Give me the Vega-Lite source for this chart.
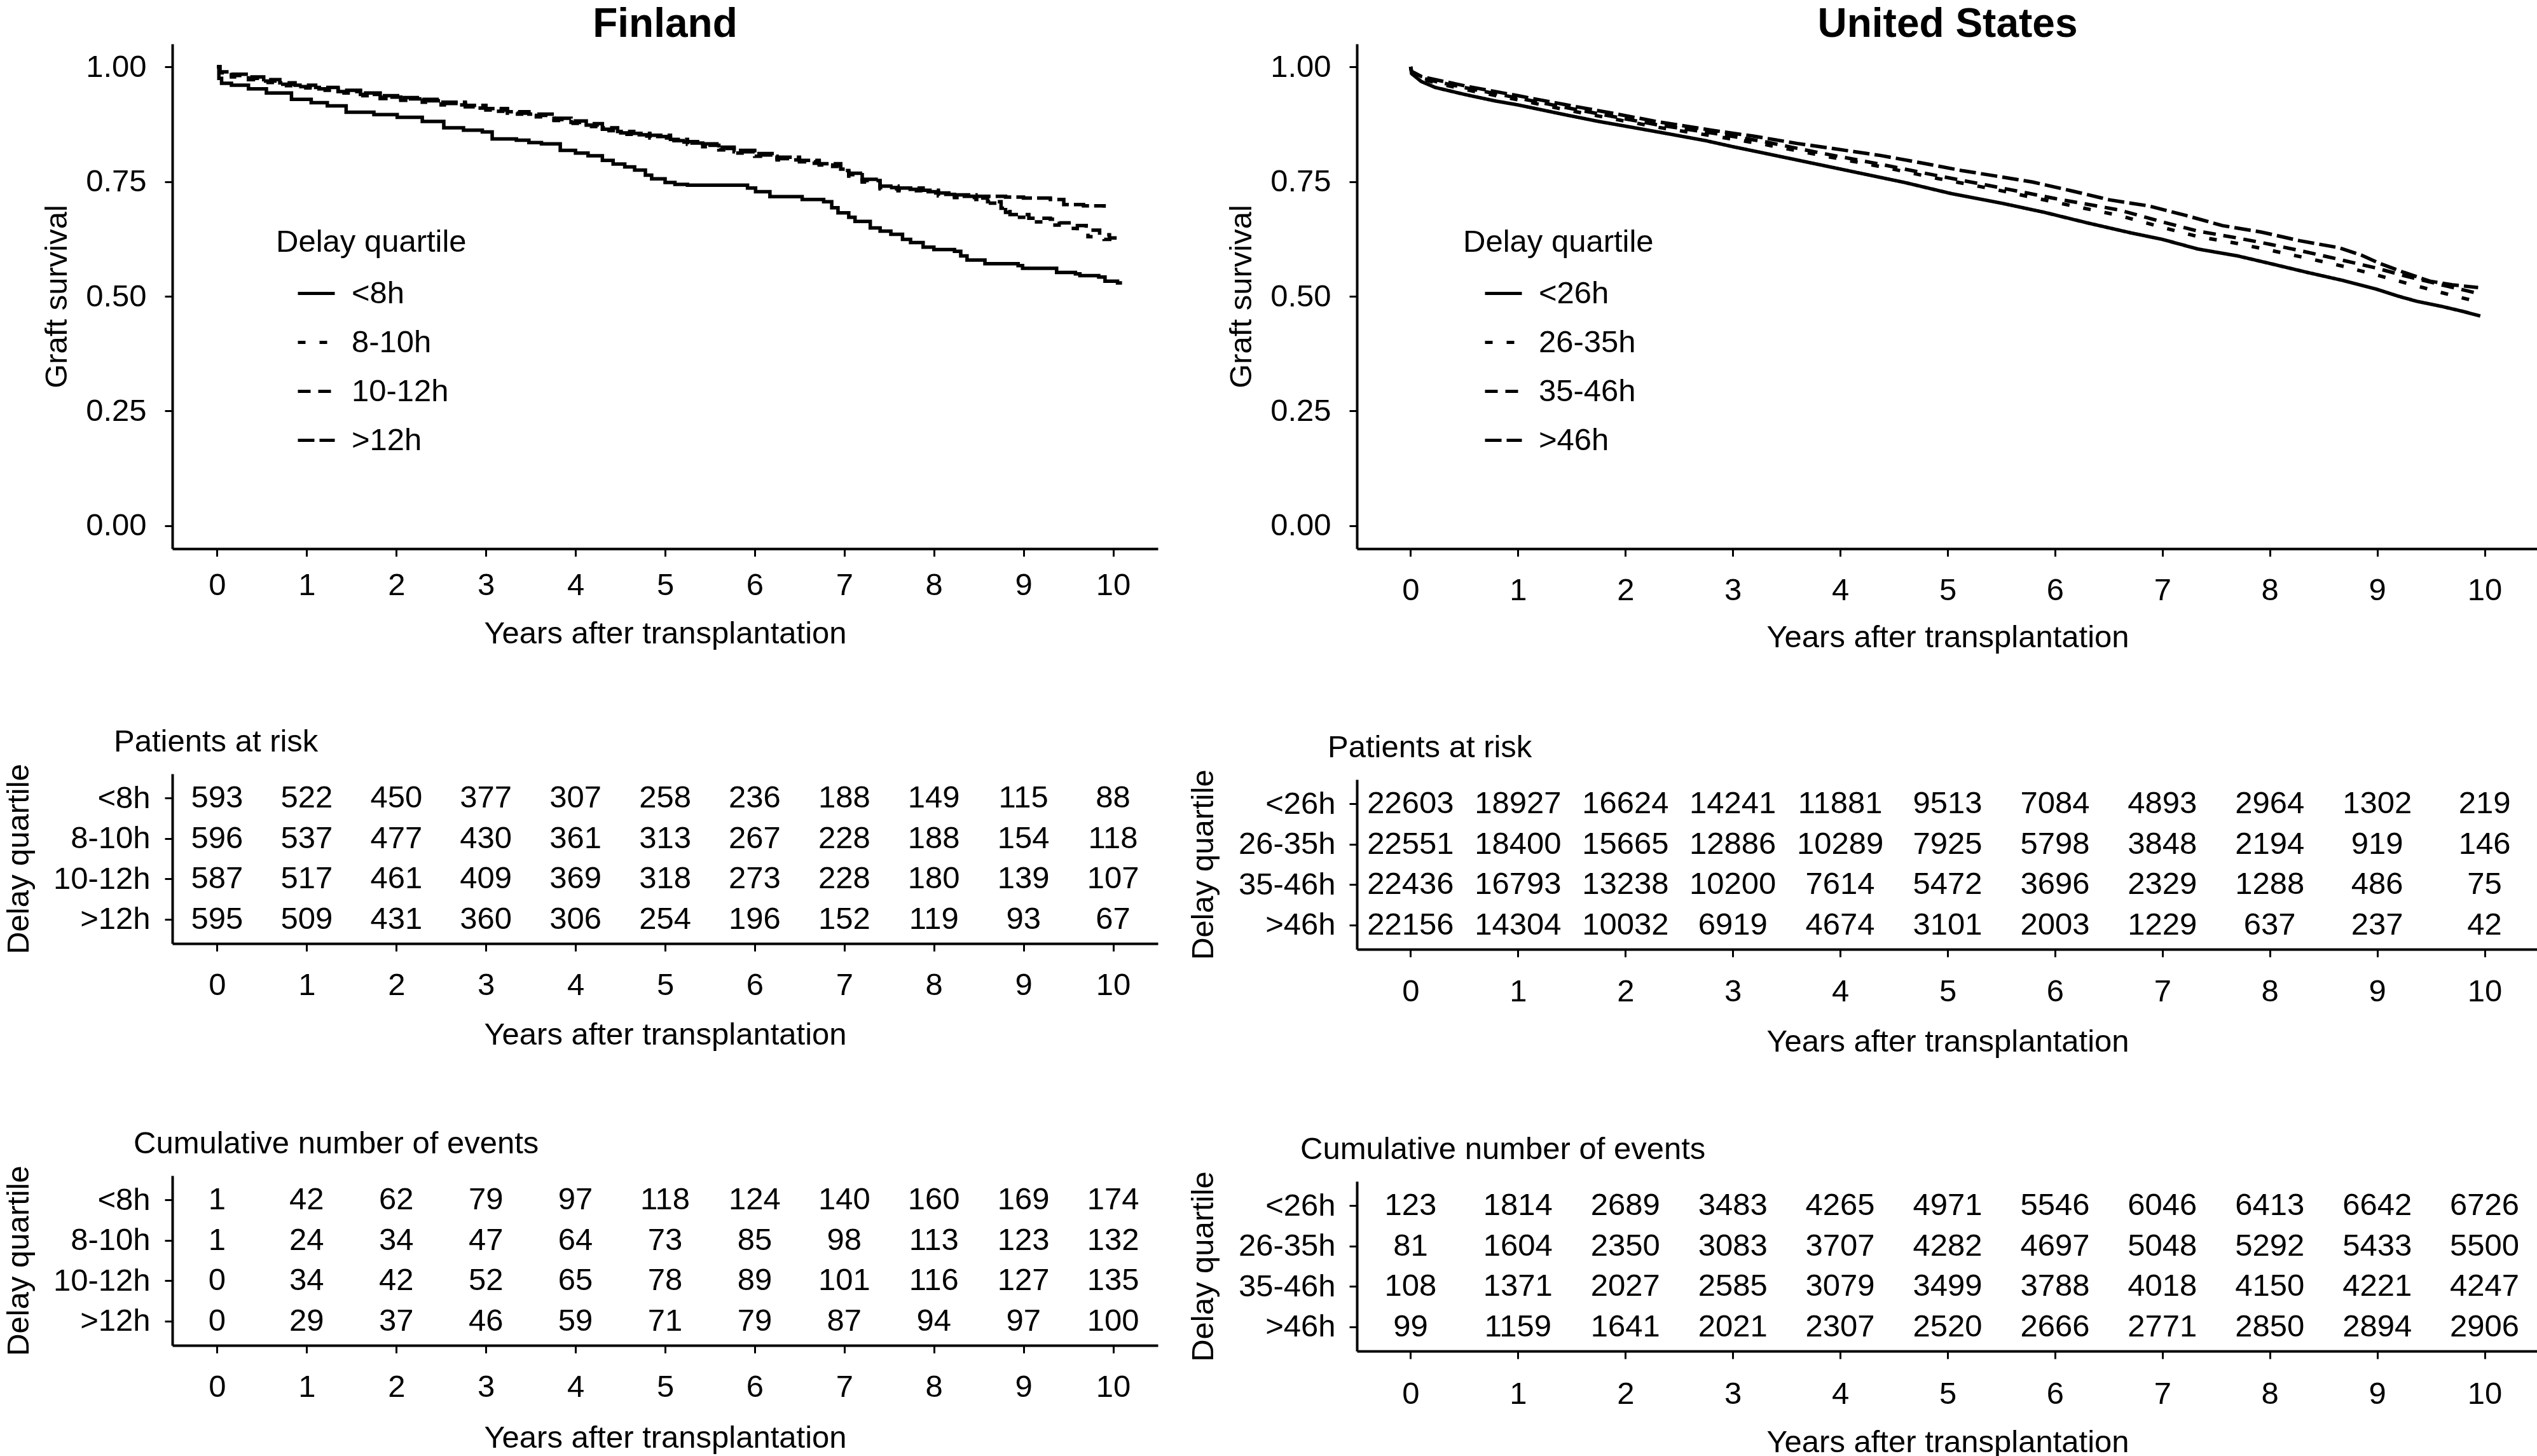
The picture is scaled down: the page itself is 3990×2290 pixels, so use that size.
{
"$schema": "https://vega.github.io/schema/vega-lite/v6.json",
"background": "white",
"padding": {"left": 4, "top": 7, "right": 0, "bottom": 0},
"config": {
  "font": "Liberation Sans",
  "view": {"stroke": null},
  "axis": {"labelFont": "Liberation Sans", "titleFont": "Liberation Sans", "labelFontSize": 49, "titleFontSize": 49, "labelColor": "black", "titleColor": "black", "domainColor": "black", "tickColor": "black", "grid": false, "titleFontWeight": "normal", "domainWidth": 4, "tickWidth": 3, "tickSize": 12, "labelFlush": false, "labelOverlap": false, "titleLimit": 3000, "labelLimit": 1000},
  "legend": {"titleFontSize": 49, "titleFontWeight": "normal", "titleColor": "black", "titleFont": "Liberation Sans", "labelFont": "Liberation Sans", "labelFontSize": 49, "labelColor": "black", "symbolType": "stroke", "symbolSize": 3364, "symbolStrokeWidth": 5, "symbolStrokeColor": "black", "symbolOffset": 32, "labelOffset": 24, "rowPadding": 20, "titlePadding": 24, "padding": 0, "orient": "none", "titleLimit": 2000, "labelLimit": 2000},
  "title": {"font": "Liberation Sans", "color": "black", "limit": 3000},
  "text": {"font": "Liberation Sans"}
},
"datasets": {
  "fiKM": [
    {"x":0,"s":1.0,"g":"<8h"},{"x":0.02,"s":0.975,"g":"<8h"},{"x":0.05,"s":0.964,"g":"<8h"},{"x":0.16,"s":0.960,"g":"<8h"},{"x":0.35,"s":0.952,"g":"<8h"},{"x":0.55,"s":0.943,"g":"<8h"},{"x":0.83,"s":0.929,"g":"<8h"},{"x":1.05,"s":0.922,"g":"<8h"},{"x":1.23,"s":0.915,"g":"<8h"},{"x":1.44,"s":0.901,"g":"<8h"},{"x":1.75,"s":0.896,"g":"<8h"},{"x":2.01,"s":0.890,"g":"<8h"},{"x":2.29,"s":0.881,"g":"<8h"},{"x":2.53,"s":0.867,"g":"<8h"},{"x":2.75,"s":0.862,"g":"<8h"},{"x":2.96,"s":0.858,"g":"<8h"},{"x":3.07,"s":0.843,"g":"<8h"},{"x":3.34,"s":0.840,"g":"<8h"},{"x":3.48,"s":0.835,"g":"<8h"},{"x":3.62,"s":0.832,"g":"<8h"},{"x":3.83,"s":0.818,"g":"<8h"},{"x":4.0,"s":0.812,"g":"<8h"},{"x":4.14,"s":0.806,"g":"<8h"},{"x":4.3,"s":0.796,"g":"<8h"},{"x":4.42,"s":0.788,"g":"<8h"},{"x":4.55,"s":0.782,"g":"<8h"},{"x":4.66,"s":0.775,"g":"<8h"},{"x":4.78,"s":0.764,"g":"<8h"},{"x":4.85,"s":0.756,"g":"<8h"},{"x":5.0,"s":0.748,"g":"<8h"},{"x":5.11,"s":0.744,"g":"<8h"},{"x":5.25,"s":0.742,"g":"<8h"},{"x":5.92,"s":0.736,"g":"<8h"},{"x":6.01,"s":0.728,"g":"<8h"},{"x":6.17,"s":0.717,"g":"<8h"},{"x":6.53,"s":0.711,"g":"<8h"},{"x":6.77,"s":0.706,"g":"<8h"},{"x":6.86,"s":0.693,"g":"<8h"},{"x":6.93,"s":0.682,"g":"<8h"},{"x":7.05,"s":0.672,"g":"<8h"},{"x":7.12,"s":0.663,"g":"<8h"},{"x":7.29,"s":0.649,"g":"<8h"},{"x":7.4,"s":0.642,"g":"<8h"},{"x":7.52,"s":0.635,"g":"<8h"},{"x":7.65,"s":0.624,"g":"<8h"},{"x":7.74,"s":0.617,"g":"<8h"},{"x":7.88,"s":0.607,"g":"<8h"},{"x":8.0,"s":0.602,"g":"<8h"},{"x":8.23,"s":0.598,"g":"<8h"},{"x":8.3,"s":0.588,"g":"<8h"},{"x":8.37,"s":0.579,"g":"<8h"},{"x":8.57,"s":0.571,"g":"<8h"},{"x":8.94,"s":0.567,"g":"<8h"},{"x":8.99,"s":0.561,"g":"<8h"},{"x":9.37,"s":0.552,"g":"<8h"},{"x":9.58,"s":0.549,"g":"<8h"},{"x":9.63,"s":0.545,"g":"<8h"},{"x":9.84,"s":0.542,"g":"<8h"},{"x":9.91,"s":0.533,"g":"<8h"},{"x":10.05,"s":0.529,"g":"<8h"},{"x":10.1,"s":0.529,"g":"<8h"},
    {"x":0,"s":1.0,"g":"8-10h"},{"x":0.03,"s":0.984,"g":"8-10h"},{"x":0.16,"s":0.978,"g":"8-10h"},{"x":0.35,"s":0.972,"g":"8-10h"},{"x":0.52,"s":0.966,"g":"8-10h"},{"x":0.7,"s":0.959,"g":"8-10h"},{"x":0.87,"s":0.954,"g":"8-10h"},{"x":1.1,"s":0.949,"g":"8-10h"},{"x":1.35,"s":0.943,"g":"8-10h"},{"x":1.6,"s":0.937,"g":"8-10h"},{"x":1.82,"s":0.931,"g":"8-10h"},{"x":2.05,"s":0.927,"g":"8-10h"},{"x":2.29,"s":0.923,"g":"8-10h"},{"x":2.5,"s":0.917,"g":"8-10h"},{"x":2.77,"s":0.910,"g":"8-10h"},{"x":3.0,"s":0.903,"g":"8-10h"},{"x":3.24,"s":0.897,"g":"8-10h"},{"x":3.48,"s":0.891,"g":"8-10h"},{"x":3.76,"s":0.883,"g":"8-10h"},{"x":3.95,"s":0.877,"g":"8-10h"},{"x":4.12,"s":0.870,"g":"8-10h"},{"x":4.3,"s":0.861,"g":"8-10h"},{"x":4.47,"s":0.853,"g":"8-10h"},{"x":4.65,"s":0.849,"g":"8-10h"},{"x":4.83,"s":0.845,"g":"8-10h"},{"x":5.06,"s":0.836,"g":"8-10h"},{"x":5.25,"s":0.831,"g":"8-10h"},{"x":5.42,"s":0.826,"g":"8-10h"},{"x":5.6,"s":0.819,"g":"8-10h"},{"x":5.77,"s":0.812,"g":"8-10h"},{"x":6.0,"s":0.805,"g":"8-10h"},{"x":6.25,"s":0.797,"g":"8-10h"},{"x":6.5,"s":0.790,"g":"8-10h"},{"x":6.72,"s":0.783,"g":"8-10h"},{"x":6.96,"s":0.771,"g":"8-10h"},{"x":7.05,"s":0.762,"g":"8-10h"},{"x":7.2,"s":0.749,"g":"8-10h"},{"x":7.4,"s":0.734,"g":"8-10h"},{"x":7.6,"s":0.730,"g":"8-10h"},{"x":7.88,"s":0.725,"g":"8-10h"},{"x":8.05,"s":0.719,"g":"8-10h"},{"x":8.23,"s":0.715,"g":"8-10h"},{"x":8.47,"s":0.711,"g":"8-10h"},{"x":8.6,"s":0.703,"g":"8-10h"},{"x":8.8,"s":0.683,"g":"8-10h"},{"x":8.9,"s":0.672,"g":"8-10h"},{"x":9.06,"s":0.662,"g":"8-10h"},{"x":9.25,"s":0.655,"g":"8-10h"},{"x":9.42,"s":0.648,"g":"8-10h"},{"x":9.6,"s":0.638,"g":"8-10h"},{"x":9.72,"s":0.630,"g":"8-10h"},{"x":9.9,"s":0.624,"g":"8-10h"},{"x":10.08,"s":0.620,"g":"8-10h"},
    {"x":0,"s":1.0,"g":"10-12h"},{"x":0.03,"s":0.987,"g":"10-12h"},{"x":0.16,"s":0.981,"g":"10-12h"},{"x":0.35,"s":0.975,"g":"10-12h"},{"x":0.52,"s":0.969,"g":"10-12h"},{"x":0.7,"s":0.962,"g":"10-12h"},{"x":0.87,"s":0.957,"g":"10-12h"},{"x":1.1,"s":0.952,"g":"10-12h"},{"x":1.35,"s":0.946,"g":"10-12h"},{"x":1.6,"s":0.940,"g":"10-12h"},{"x":1.82,"s":0.934,"g":"10-12h"},{"x":2.05,"s":0.930,"g":"10-12h"},{"x":2.29,"s":0.926,"g":"10-12h"},{"x":2.5,"s":0.920,"g":"10-12h"},{"x":2.77,"s":0.913,"g":"10-12h"},{"x":3.0,"s":0.906,"g":"10-12h"},{"x":3.24,"s":0.899,"g":"10-12h"},{"x":3.48,"s":0.894,"g":"10-12h"},{"x":3.76,"s":0.885,"g":"10-12h"},{"x":3.95,"s":0.879,"g":"10-12h"},{"x":4.12,"s":0.873,"g":"10-12h"},{"x":4.3,"s":0.864,"g":"10-12h"},{"x":4.47,"s":0.856,"g":"10-12h"},{"x":4.65,"s":0.852,"g":"10-12h"},{"x":4.83,"s":0.848,"g":"10-12h"},{"x":5.06,"s":0.839,"g":"10-12h"},{"x":5.25,"s":0.834,"g":"10-12h"},{"x":5.42,"s":0.829,"g":"10-12h"},{"x":5.6,"s":0.822,"g":"10-12h"},{"x":5.77,"s":0.815,"g":"10-12h"},{"x":6.0,"s":0.808,"g":"10-12h"},{"x":6.25,"s":0.800,"g":"10-12h"},{"x":6.5,"s":0.793,"g":"10-12h"},{"x":6.72,"s":0.786,"g":"10-12h"},{"x":6.96,"s":0.774,"g":"10-12h"},{"x":7.05,"s":0.765,"g":"10-12h"},{"x":7.2,"s":0.752,"g":"10-12h"},{"x":7.4,"s":0.737,"g":"10-12h"},{"x":7.6,"s":0.733,"g":"10-12h"},{"x":7.88,"s":0.728,"g":"10-12h"},{"x":8.05,"s":0.722,"g":"10-12h"},{"x":8.23,"s":0.718,"g":"10-12h"},{"x":8.47,"s":0.714,"g":"10-12h"},{"x":8.6,"s":0.706,"g":"10-12h"},{"x":8.75,"s":0.692,"g":"10-12h"},{"x":8.85,"s":0.678,"g":"10-12h"},{"x":9.06,"s":0.670,"g":"10-12h"},{"x":9.3,"s":0.668,"g":"10-12h"},{"x":9.4,"s":0.660,"g":"10-12h"},{"x":9.55,"s":0.654,"g":"10-12h"},{"x":9.7,"s":0.644,"g":"10-12h"},{"x":9.85,"s":0.634,"g":"10-12h"},{"x":9.96,"s":0.627,"g":"10-12h"},{"x":10.05,"s":0.625,"g":"10-12h"},
    {"x":0,"s":1.0,"g":">12h"},{"x":0.03,"s":0.989,"g":">12h"},{"x":0.16,"s":0.984,"g":">12h"},{"x":0.35,"s":0.978,"g":">12h"},{"x":0.52,"s":0.972,"g":">12h"},{"x":0.7,"s":0.965,"g":">12h"},{"x":0.87,"s":0.960,"g":">12h"},{"x":1.1,"s":0.955,"g":">12h"},{"x":1.35,"s":0.949,"g":">12h"},{"x":1.6,"s":0.943,"g":">12h"},{"x":1.82,"s":0.937,"g":">12h"},{"x":2.05,"s":0.933,"g":">12h"},{"x":2.29,"s":0.929,"g":">12h"},{"x":2.5,"s":0.923,"g":">12h"},{"x":2.77,"s":0.916,"g":">12h"},{"x":3.0,"s":0.909,"g":">12h"},{"x":3.24,"s":0.902,"g":">12h"},{"x":3.48,"s":0.897,"g":">12h"},{"x":3.76,"s":0.888,"g":">12h"},{"x":3.95,"s":0.882,"g":">12h"},{"x":4.12,"s":0.876,"g":">12h"},{"x":4.3,"s":0.867,"g":">12h"},{"x":4.47,"s":0.859,"g":">12h"},{"x":4.65,"s":0.855,"g":">12h"},{"x":4.83,"s":0.851,"g":">12h"},{"x":5.06,"s":0.842,"g":">12h"},{"x":5.25,"s":0.837,"g":">12h"},{"x":5.42,"s":0.832,"g":">12h"},{"x":5.6,"s":0.825,"g":">12h"},{"x":5.77,"s":0.818,"g":">12h"},{"x":6.0,"s":0.811,"g":">12h"},{"x":6.25,"s":0.803,"g":">12h"},{"x":6.5,"s":0.796,"g":">12h"},{"x":6.72,"s":0.789,"g":">12h"},{"x":6.96,"s":0.777,"g":">12h"},{"x":7.05,"s":0.768,"g":">12h"},{"x":7.2,"s":0.755,"g":">12h"},{"x":7.4,"s":0.740,"g":">12h"},{"x":7.6,"s":0.736,"g":">12h"},{"x":7.88,"s":0.731,"g":">12h"},{"x":8.05,"s":0.725,"g":">12h"},{"x":8.23,"s":0.721,"g":">12h"},{"x":8.47,"s":0.718,"g":">12h"},{"x":8.8,"s":0.716,"g":">12h"},{"x":9.0,"s":0.714,"g":">12h"},{"x":9.3,"s":0.711,"g":">12h"},{"x":9.45,"s":0.700,"g":">12h"},{"x":9.67,"s":0.697,"g":">12h"},{"x":9.9,"s":0.693,"g":">12h"}
  ],
  "usKM": [
    {"x":0,"s":1.0,"g":"<26h"},{"x":0.01,"s":0.985,"g":"<26h"},{"x":0.1,"s":0.968,"g":"<26h"},{"x":0.23,"s":0.955,"g":"<26h"},{"x":0.5,"s":0.940,"g":"<26h"},{"x":0.78,"s":0.926,"g":"<26h"},{"x":1.0,"s":0.917,"g":"<26h"},{"x":1.43,"s":0.896,"g":"<26h"},{"x":1.75,"s":0.881,"g":"<26h"},{"x":2.09,"s":0.867,"g":"<26h"},{"x":2.4,"s":0.854,"g":"<26h"},{"x":2.75,"s":0.839,"g":"<26h"},{"x":3.0,"s":0.826,"g":"<26h"},{"x":3.27,"s":0.813,"g":"<26h"},{"x":3.7,"s":0.792,"g":"<26h"},{"x":4.15,"s":0.770,"g":"<26h"},{"x":4.6,"s":0.748,"g":"<26h"},{"x":5.03,"s":0.724,"g":"<26h"},{"x":5.5,"s":0.703,"g":"<26h"},{"x":5.9,"s":0.683,"g":"<26h"},{"x":6.3,"s":0.660,"g":"<26h"},{"x":6.71,"s":0.638,"g":"<26h"},{"x":7.0,"s":0.624,"g":"<26h"},{"x":7.33,"s":0.603,"g":"<26h"},{"x":7.7,"s":0.588,"g":"<26h"},{"x":8.01,"s":0.571,"g":"<26h"},{"x":8.35,"s":0.552,"g":"<26h"},{"x":8.69,"s":0.534,"g":"<26h"},{"x":9.0,"s":0.515,"g":"<26h"},{"x":9.2,"s":0.500,"g":"<26h"},{"x":9.37,"s":0.489,"g":"<26h"},{"x":9.6,"s":0.478,"g":"<26h"},{"x":9.8,"s":0.467,"g":"<26h"},{"x":9.96,"s":0.457,"g":"<26h"},
    {"x":0,"s":1.0,"g":"26-35h"},{"x":0.01,"s":0.988,"g":"26-35h"},{"x":0.1,"s":0.974,"g":"26-35h"},{"x":0.25,"s":0.964,"g":"26-35h"},{"x":0.56,"s":0.948,"g":"26-35h"},{"x":1.0,"s":0.928,"g":"26-35h"},{"x":1.43,"s":0.907,"g":"26-35h"},{"x":1.9,"s":0.886,"g":"26-35h"},{"x":2.31,"s":0.868,"g":"26-35h"},{"x":2.8,"s":0.850,"g":"26-35h"},{"x":3.27,"s":0.832,"g":"26-35h"},{"x":3.8,"s":0.808,"g":"26-35h"},{"x":4.37,"s":0.783,"g":"26-35h"},{"x":4.9,"s":0.757,"g":"26-35h"},{"x":5.46,"s":0.732,"g":"26-35h"},{"x":6.0,"s":0.705,"g":"26-35h"},{"x":6.6,"s":0.676,"g":"26-35h"},{"x":7.0,"s":0.650,"g":"26-35h"},{"x":7.33,"s":0.630,"g":"26-35h"},{"x":7.7,"s":0.615,"g":"26-35h"},{"x":8.01,"s":0.600,"g":"26-35h"},{"x":8.35,"s":0.583,"g":"26-35h"},{"x":8.69,"s":0.565,"g":"26-35h"},{"x":9.0,"s":0.546,"g":"26-35h"},{"x":9.25,"s":0.530,"g":"26-35h"},{"x":9.6,"s":0.508,"g":"26-35h"},{"x":9.8,"s":0.496,"g":"26-35h"},{"x":9.96,"s":0.487,"g":"26-35h"},
    {"x":0,"s":1.0,"g":"35-46h"},{"x":0.01,"s":0.989,"g":"35-46h"},{"x":0.1,"s":0.976,"g":"35-46h"},{"x":0.25,"s":0.967,"g":"35-46h"},{"x":0.56,"s":0.952,"g":"35-46h"},{"x":1.0,"s":0.932,"g":"35-46h"},{"x":1.43,"s":0.912,"g":"35-46h"},{"x":1.9,"s":0.891,"g":"35-46h"},{"x":2.31,"s":0.873,"g":"35-46h"},{"x":2.8,"s":0.856,"g":"35-46h"},{"x":3.27,"s":0.838,"g":"35-46h"},{"x":3.8,"s":0.813,"g":"35-46h"},{"x":4.37,"s":0.788,"g":"35-46h"},{"x":4.9,"s":0.763,"g":"35-46h"},{"x":5.46,"s":0.738,"g":"35-46h"},{"x":6.0,"s":0.713,"g":"35-46h"},{"x":6.6,"s":0.688,"g":"35-46h"},{"x":7.0,"s":0.662,"g":"35-46h"},{"x":7.33,"s":0.642,"g":"35-46h"},{"x":7.7,"s":0.627,"g":"35-46h"},{"x":8.01,"s":0.613,"g":"35-46h"},{"x":8.35,"s":0.596,"g":"35-46h"},{"x":8.69,"s":0.578,"g":"35-46h"},{"x":9.0,"s":0.561,"g":"35-46h"},{"x":9.25,"s":0.545,"g":"35-46h"},{"x":9.6,"s":0.525,"g":"35-46h"},{"x":9.8,"s":0.514,"g":"35-46h"},{"x":9.96,"s":0.505,"g":"35-46h"},
    {"x":0,"s":1.0,"g":">46h"},{"x":0.01,"s":0.990,"g":">46h"},{"x":0.1,"s":0.979,"g":">46h"},{"x":0.25,"s":0.971,"g":">46h"},{"x":0.56,"s":0.956,"g":">46h"},{"x":1.0,"s":0.937,"g":">46h"},{"x":1.43,"s":0.918,"g":">46h"},{"x":1.9,"s":0.898,"g":">46h"},{"x":2.31,"s":0.880,"g":">46h"},{"x":2.8,"s":0.862,"g":">46h"},{"x":3.19,"s":0.849,"g":">46h"},{"x":3.6,"s":0.833,"g":">46h"},{"x":3.93,"s":0.822,"g":">46h"},{"x":4.37,"s":0.807,"g":">46h"},{"x":4.75,"s":0.791,"g":">46h"},{"x":5.13,"s":0.774,"g":">46h"},{"x":5.45,"s":0.762,"g":">46h"},{"x":5.79,"s":0.749,"g":">46h"},{"x":6.15,"s":0.730,"g":">46h"},{"x":6.51,"s":0.710,"g":">46h"},{"x":6.87,"s":0.697,"g":">46h"},{"x":7.22,"s":0.676,"g":">46h"},{"x":7.56,"s":0.654,"g":">46h"},{"x":7.92,"s":0.640,"g":">46h"},{"x":8.28,"s":0.621,"g":">46h"},{"x":8.64,"s":0.606,"g":">46h"},{"x":8.85,"s":0.590,"g":">46h"},{"x":9.03,"s":0.571,"g":">46h"},{"x":9.25,"s":0.552,"g":">46h"},{"x":9.49,"s":0.533,"g":">46h"},{"x":9.7,"s":0.525,"g":">46h"},{"x":9.94,"s":0.519,"g":">46h"}
  ],
  "fiRisk": [
    {"t":0,"g":"<8h","v":593},{"t":1,"g":"<8h","v":522},{"t":2,"g":"<8h","v":450},{"t":3,"g":"<8h","v":377},{"t":4,"g":"<8h","v":307},{"t":5,"g":"<8h","v":258},{"t":6,"g":"<8h","v":236},{"t":7,"g":"<8h","v":188},{"t":8,"g":"<8h","v":149},{"t":9,"g":"<8h","v":115},{"t":10,"g":"<8h","v":88},
    {"t":0,"g":"8-10h","v":596},{"t":1,"g":"8-10h","v":537},{"t":2,"g":"8-10h","v":477},{"t":3,"g":"8-10h","v":430},{"t":4,"g":"8-10h","v":361},{"t":5,"g":"8-10h","v":313},{"t":6,"g":"8-10h","v":267},{"t":7,"g":"8-10h","v":228},{"t":8,"g":"8-10h","v":188},{"t":9,"g":"8-10h","v":154},{"t":10,"g":"8-10h","v":118},
    {"t":0,"g":"10-12h","v":587},{"t":1,"g":"10-12h","v":517},{"t":2,"g":"10-12h","v":461},{"t":3,"g":"10-12h","v":409},{"t":4,"g":"10-12h","v":369},{"t":5,"g":"10-12h","v":318},{"t":6,"g":"10-12h","v":273},{"t":7,"g":"10-12h","v":228},{"t":8,"g":"10-12h","v":180},{"t":9,"g":"10-12h","v":139},{"t":10,"g":"10-12h","v":107},
    {"t":0,"g":">12h","v":595},{"t":1,"g":">12h","v":509},{"t":2,"g":">12h","v":431},{"t":3,"g":">12h","v":360},{"t":4,"g":">12h","v":306},{"t":5,"g":">12h","v":254},{"t":6,"g":">12h","v":196},{"t":7,"g":">12h","v":152},{"t":8,"g":">12h","v":119},{"t":9,"g":">12h","v":93},{"t":10,"g":">12h","v":67}
  ],
  "fiEv": [
    {"t":0,"g":"<8h","v":1},{"t":1,"g":"<8h","v":42},{"t":2,"g":"<8h","v":62},{"t":3,"g":"<8h","v":79},{"t":4,"g":"<8h","v":97},{"t":5,"g":"<8h","v":118},{"t":6,"g":"<8h","v":124},{"t":7,"g":"<8h","v":140},{"t":8,"g":"<8h","v":160},{"t":9,"g":"<8h","v":169},{"t":10,"g":"<8h","v":174},
    {"t":0,"g":"8-10h","v":1},{"t":1,"g":"8-10h","v":24},{"t":2,"g":"8-10h","v":34},{"t":3,"g":"8-10h","v":47},{"t":4,"g":"8-10h","v":64},{"t":5,"g":"8-10h","v":73},{"t":6,"g":"8-10h","v":85},{"t":7,"g":"8-10h","v":98},{"t":8,"g":"8-10h","v":113},{"t":9,"g":"8-10h","v":123},{"t":10,"g":"8-10h","v":132},
    {"t":0,"g":"10-12h","v":0},{"t":1,"g":"10-12h","v":34},{"t":2,"g":"10-12h","v":42},{"t":3,"g":"10-12h","v":52},{"t":4,"g":"10-12h","v":65},{"t":5,"g":"10-12h","v":78},{"t":6,"g":"10-12h","v":89},{"t":7,"g":"10-12h","v":101},{"t":8,"g":"10-12h","v":116},{"t":9,"g":"10-12h","v":127},{"t":10,"g":"10-12h","v":135},
    {"t":0,"g":">12h","v":0},{"t":1,"g":">12h","v":29},{"t":2,"g":">12h","v":37},{"t":3,"g":">12h","v":46},{"t":4,"g":">12h","v":59},{"t":5,"g":">12h","v":71},{"t":6,"g":">12h","v":79},{"t":7,"g":">12h","v":87},{"t":8,"g":">12h","v":94},{"t":9,"g":">12h","v":97},{"t":10,"g":">12h","v":100}
  ],
  "usRisk": [
    {"t":0,"g":"<26h","v":22603},{"t":1,"g":"<26h","v":18927},{"t":2,"g":"<26h","v":16624},{"t":3,"g":"<26h","v":14241},{"t":4,"g":"<26h","v":11881},{"t":5,"g":"<26h","v":9513},{"t":6,"g":"<26h","v":7084},{"t":7,"g":"<26h","v":4893},{"t":8,"g":"<26h","v":2964},{"t":9,"g":"<26h","v":1302},{"t":10,"g":"<26h","v":219},
    {"t":0,"g":"26-35h","v":22551},{"t":1,"g":"26-35h","v":18400},{"t":2,"g":"26-35h","v":15665},{"t":3,"g":"26-35h","v":12886},{"t":4,"g":"26-35h","v":10289},{"t":5,"g":"26-35h","v":7925},{"t":6,"g":"26-35h","v":5798},{"t":7,"g":"26-35h","v":3848},{"t":8,"g":"26-35h","v":2194},{"t":9,"g":"26-35h","v":919},{"t":10,"g":"26-35h","v":146},
    {"t":0,"g":"35-46h","v":22436},{"t":1,"g":"35-46h","v":16793},{"t":2,"g":"35-46h","v":13238},{"t":3,"g":"35-46h","v":10200},{"t":4,"g":"35-46h","v":7614},{"t":5,"g":"35-46h","v":5472},{"t":6,"g":"35-46h","v":3696},{"t":7,"g":"35-46h","v":2329},{"t":8,"g":"35-46h","v":1288},{"t":9,"g":"35-46h","v":486},{"t":10,"g":"35-46h","v":75},
    {"t":0,"g":">46h","v":22156},{"t":1,"g":">46h","v":14304},{"t":2,"g":">46h","v":10032},{"t":3,"g":">46h","v":6919},{"t":4,"g":">46h","v":4674},{"t":5,"g":">46h","v":3101},{"t":6,"g":">46h","v":2003},{"t":7,"g":">46h","v":1229},{"t":8,"g":">46h","v":637},{"t":9,"g":">46h","v":237},{"t":10,"g":">46h","v":42}
  ],
  "usEv": [
    {"t":0,"g":"<26h","v":123},{"t":1,"g":"<26h","v":1814},{"t":2,"g":"<26h","v":2689},{"t":3,"g":"<26h","v":3483},{"t":4,"g":"<26h","v":4265},{"t":5,"g":"<26h","v":4971},{"t":6,"g":"<26h","v":5546},{"t":7,"g":"<26h","v":6046},{"t":8,"g":"<26h","v":6413},{"t":9,"g":"<26h","v":6642},{"t":10,"g":"<26h","v":6726},
    {"t":0,"g":"26-35h","v":81},{"t":1,"g":"26-35h","v":1604},{"t":2,"g":"26-35h","v":2350},{"t":3,"g":"26-35h","v":3083},{"t":4,"g":"26-35h","v":3707},{"t":5,"g":"26-35h","v":4282},{"t":6,"g":"26-35h","v":4697},{"t":7,"g":"26-35h","v":5048},{"t":8,"g":"26-35h","v":5292},{"t":9,"g":"26-35h","v":5433},{"t":10,"g":"26-35h","v":5500},
    {"t":0,"g":"35-46h","v":108},{"t":1,"g":"35-46h","v":1371},{"t":2,"g":"35-46h","v":2027},{"t":3,"g":"35-46h","v":2585},{"t":4,"g":"35-46h","v":3079},{"t":5,"g":"35-46h","v":3499},{"t":6,"g":"35-46h","v":3788},{"t":7,"g":"35-46h","v":4018},{"t":8,"g":"35-46h","v":4150},{"t":9,"g":"35-46h","v":4221},{"t":10,"g":"35-46h","v":4247},
    {"t":0,"g":">46h","v":99},{"t":1,"g":">46h","v":1159},{"t":2,"g":">46h","v":1641},{"t":3,"g":">46h","v":2021},{"t":4,"g":">46h","v":2307},{"t":5,"g":">46h","v":2520},{"t":6,"g":">46h","v":2666},{"t":7,"g":">46h","v":2771},{"t":8,"g":">46h","v":2850},{"t":9,"g":">46h","v":2894},{"t":10,"g":">46h","v":2906}
  ]
},
"bounds": "full",
"spacing": 46,
"resolve": {"scale": {"x": "independent", "y": "independent", "strokeDash": "independent"}, "legend": {"strokeDash": "independent"}},
"hconcat": [
  {
    "bounds": "flush",
    "spacing": 354,
    "resolve": {"scale": {"x": "independent", "y": "independent"}},
    "vconcat": [
      {
        "width": 1550, "height": 794,
        "title": {"text": "Finland", "fontSize": 64, "fontWeight": "bold", "anchor": "middle", "frame": "group", "baseline": "alphabetic", "offset": -53},
        "data": {"name": "fiKM"},
        "mark": {"type": "line", "interpolate": "step-after", "strokeWidth": 5.5, "color": "black"},
        "encoding": {
          "x": {"field": "x", "type": "quantitative", "scale": {"domain": [-0.5, 10.5], "nice": false, "zero": false}, "axis": {"values": [0,1,2,3,4,5,6,7,8,9,10], "title": "Years after transplantation", "titleX": 775, "titleY": 133, "titleBaseline": "middle", "labelPadding": 21}},
          "y": {"field": "s", "type": "quantitative", "scale": {"domain": [-0.05, 1.05], "nice": false, "zero": false}, "axis": {"values": [0, 0.25, 0.5, 0.75, 1], "format": ".2f", "title": "Graft survival", "titleX": -182, "titleY": 397, "titleAngle": 270, "titleBaseline": "middle", "titleAlign": "center", "labelPadding": 29}},
          "strokeDash": {"field": "g", "type": "nominal", "scale": {"domain": ["<8h", "8-10h", "10-12h", ">12h"], "range": [[1, 0], [12, 22], [20, 12], [26, 8]]}, "legend": {"title": "Delay quartile", "legendX": 163, "legendY": 288}}
        }
      },
      {
        "bounds": "flush",
        "spacing": 365,
        "resolve": {"scale": {"x": "independent", "y": "independent"}},
        "vconcat": [
          {
            "width": 1550, "height": 267,
            "title": {"text": "Patients at risk", "fontSize": 49, "fontWeight": "normal", "anchor": "start", "frame": "group", "baseline": "alphabetic", "offset": -30, "dx": -92},
            "data": {"name": "fiRisk"},
            "mark": {"type": "text", "fontSize": 49, "color": "black", "align": "center", "baseline": "middle"},
            "encoding": {
              "x": {"field": "t", "type": "quantitative", "scale": {"domain": [-0.5, 10.5], "nice": false, "zero": false}, "axis": {"values": [0,1,2,3,4,5,6,7,8,9,10], "title": "Years after transplantation", "titleX": 775, "titleY": 143, "titleBaseline": "middle", "labelPadding": 29}},
              "y": {"field": "g", "type": "nominal", "scale": {"type": "point", "padding": 0.6, "domain": ["<8h", "8-10h", "10-12h", ">12h"]}, "axis": {"title": "Delay quartile", "titleX": -242, "titleY": 133.5, "titleAngle": 270, "titleBaseline": "middle", "titleAlign": "center", "labelPadding": 23}},
              "text": {"field": "v", "type": "quantitative", "format": "d"}
            }
          },
          {
            "width": 1550, "height": 267,
            "title": {"text": "Cumulative number of events", "fontSize": 49, "fontWeight": "normal", "anchor": "start", "frame": "group", "baseline": "alphabetic", "offset": -30, "dx": -61},
            "data": {"name": "fiEv"},
            "mark": {"type": "text", "fontSize": 49, "color": "black", "align": "center", "baseline": "middle"},
            "encoding": {
              "x": {"field": "t", "type": "quantitative", "scale": {"domain": [-0.5, 10.5], "nice": false, "zero": false}, "axis": {"values": [0,1,2,3,4,5,6,7,8,9,10], "title": "Years after transplantation", "titleX": 775, "titleY": 145, "titleBaseline": "middle", "labelPadding": 29}},
              "y": {"field": "g", "type": "nominal", "scale": {"type": "point", "padding": 0.6, "domain": ["<8h", "8-10h", "10-12h", ">12h"]}, "axis": {"title": "Delay quartile", "titleX": -242, "titleY": 133.5, "titleAngle": 270, "titleBaseline": "middle", "titleAlign": "center", "labelPadding": 23}},
              "text": {"field": "v", "type": "quantitative", "format": "d"}
            }
          }
        ]
      }
    ]
  },
  {
    "bounds": "flush",
    "spacing": 363,
    "resolve": {"scale": {"x": "independent", "y": "independent"}},
    "vconcat": [
      {
        "width": 1858, "height": 794,
        "title": {"text": "United States", "fontSize": 64, "fontWeight": "bold", "anchor": "middle", "frame": "group", "baseline": "alphabetic", "offset": -53},
        "data": {"name": "usKM"},
        "mark": {"type": "line", "strokeWidth": 5.5, "color": "black"},
        "encoding": {
          "x": {"field": "x", "type": "quantitative", "scale": {"domain": [-0.5, 10.5], "nice": false, "zero": false}, "axis": {"values": [0,1,2,3,4,5,6,7,8,9,10], "title": "Years after transplantation", "titleX": 929, "titleY": 139, "titleBaseline": "middle", "labelPadding": 29}},
          "y": {"field": "s", "type": "quantitative", "scale": {"domain": [-0.05, 1.05], "nice": false, "zero": false}, "axis": {"values": [0, 0.25, 0.5, 0.75, 1], "format": ".2f", "title": "Graft survival", "titleX": -182, "titleY": 397, "titleAngle": 270, "titleBaseline": "middle", "titleAlign": "center", "labelPadding": 29}},
          "strokeDash": {"field": "g", "type": "nominal", "scale": {"domain": ["<26h", "26-35h", "35-46h", ">46h"], "range": [[1, 0], [12, 22], [20, 12], [26, 8]]}, "legend": {"title": "Delay quartile", "legendX": 167, "legendY": 288}}
        }
      },
      {
        "bounds": "flush",
        "spacing": 365,
        "resolve": {"scale": {"x": "independent", "y": "independent"}},
        "vconcat": [
          {
            "width": 1858, "height": 267,
            "title": {"text": "Patients at risk", "fontSize": 49, "fontWeight": "normal", "anchor": "start", "frame": "group", "baseline": "alphabetic", "offset": -30, "dx": -46},
            "data": {"name": "usRisk"},
            "mark": {"type": "text", "fontSize": 49, "color": "black", "align": "center", "baseline": "middle"},
            "encoding": {
              "x": {"field": "t", "type": "quantitative", "scale": {"domain": [-0.5, 10.5], "nice": false, "zero": false}, "axis": {"values": [0,1,2,3,4,5,6,7,8,9,10], "title": "Years after transplantation", "titleX": 929, "titleY": 145, "titleBaseline": "middle", "labelPadding": 30}},
              "y": {"field": "g", "type": "nominal", "scale": {"type": "point", "padding": 0.6, "domain": ["<26h", "26-35h", "35-46h", ">46h"]}, "axis": {"title": "Delay quartile", "titleX": -242, "titleY": 133.5, "titleAngle": 270, "titleBaseline": "middle", "titleAlign": "center", "labelPadding": 22}},
              "text": {"field": "v", "type": "quantitative", "format": "d"}
            }
          },
          {
            "width": 1858, "height": 267,
            "title": {"text": "Cumulative number of events", "fontSize": 49, "fontWeight": "normal", "anchor": "start", "frame": "group", "baseline": "alphabetic", "offset": -30, "dx": -89},
            "data": {"name": "usEv"},
            "mark": {"type": "text", "fontSize": 49, "color": "black", "align": "center", "baseline": "middle"},
            "encoding": {
              "x": {"field": "t", "type": "quantitative", "scale": {"domain": [-0.5, 10.5], "nice": false, "zero": false}, "axis": {"values": [0,1,2,3,4,5,6,7,8,9,10], "title": "Years after transplantation", "titleX": 929, "titleY": 143, "titleBaseline": "middle", "labelPadding": 31}},
              "y": {"field": "g", "type": "nominal", "scale": {"type": "point", "padding": 0.6, "domain": ["<26h", "26-35h", "35-46h", ">46h"]}, "axis": {"title": "Delay quartile", "titleX": -242, "titleY": 133.5, "titleAngle": 270, "titleBaseline": "middle", "titleAlign": "center", "labelPadding": 22}},
              "text": {"field": "v", "type": "quantitative", "format": "d"}
            }
          }
        ]
      }
    ]
  }
]
}
